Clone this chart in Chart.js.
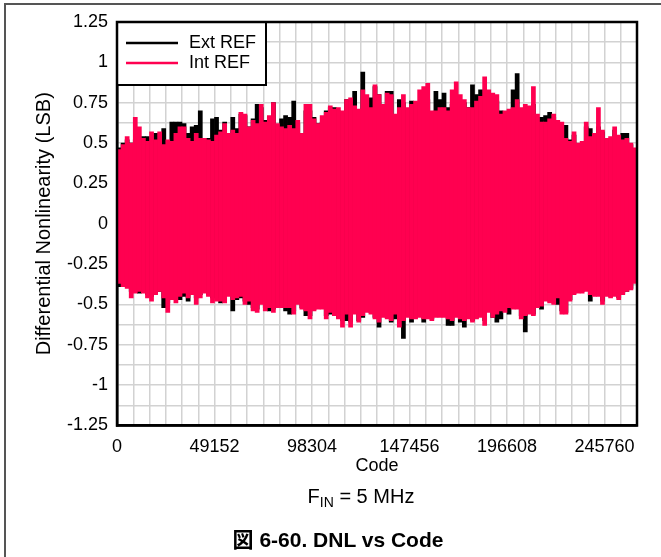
<!DOCTYPE html>
<html>
<head>
<meta charset="utf-8">
<script src="https://cdn.jsdelivr.net/npm/chart.js@4.4.1/dist/chart.umd.min.js"></script>
<style>
  html, body { margin: 0; padding: 0; background: #fff; }
  #wrap { position: relative; width: 661px; height: 557px; overflow: hidden; background: #fff; }
  #frame { position: absolute; left: 4px; top: 3px; width: 700px; height: 600px; border-top: 2px solid #555; border-left: 2px solid #555; }
  canvas { position: absolute; left: 0; top: 0; }
  .cap { position: absolute; white-space: nowrap; color: #000; font-family: "Liberation Sans", Arial, "Noto Sans CJK JP", sans-serif; }
  #fin { font-size: 20px; line-height: 20px; left: 361px; top: 486px; transform: translateX(-50%); }
  #fin sub { font-size: 14px; vertical-align: -4px; line-height: 0; }
  #fig { font-size: 21px; line-height: 21px; font-weight: bold; left: 338px; top: 529px; transform: translateX(-50%); }
</style>
</head>
<body>
<div id="wrap">
  <div id="frame"></div>
  <canvas id="c" width="661" height="557"></canvas>
  <div class="cap" id="fin">F<sub>IN</sub> = 5 MHz</div>
  <div class="cap" id="fig">図 6-60. DNL vs Code</div>
</div>
<script>
// ---- Data (DNL envelope per 2048-code bin) ----
const binWidth = 2048;
const seriesNames = ['Ext REF', 'Int REF'];
const xTickValues = [0, 49152, 98304, 147456, 196608, 245760];
const xTickLabels = ['0', '49152', '98304', '147456', '196608', '245760'];
const yTickValues = [1.25, 1, 0.75, 0.5, 0.25, 0, -0.25, -0.5, -0.75, -1, -1.25];
const yTickLabels = ['1.25', '1', '0.75', '0.5', '0.25', '0', '-0.25', '-0.5', '-0.75', '-1', '-1.25'];

// Ext REF (black) max / min DNL per bin
const extHi = [
  0.47,0.50,0.52,0.50,0.52,0.53,0.54,0.54,0.52,0.56,0.53,0.59,0.51,0.63,0.63,0.63,
  0.62,0.56,0.60,0.61,0.70,0.53,0.53,0.65,0.66,0.58,0.63,0.56,0.66,0.59,0.68,0.67,
  0.60,0.65,0.74,0.72,0.64,0.66,0.75,0.60,0.65,0.67,0.66,0.76,0.62,0.55,0.70,0.70,
  0.66,0.62,0.63,0.70,0.72,0.72,0.70,0.68,0.77,0.75,0.82,0.69,0.94,0.71,0.78,0.85,
  0.80,0.72,0.82,0.82,0.66,0.77,0.75,0.70,0.76,0.75,0.74,0.76,0.77,0.68,0.82,0.77,
  0.81,0.72,0.74,0.76,0.74,0.75,0.72,0.86,0.80,0.83,0.79,0.78,0.78,0.76,0.70,0.68,
  0.69,0.83,0.93,0.70,0.72,0.71,0.74,0.66,0.66,0.67,0.69,0.66,0.61,0.61,0.61,0.52,
  0.55,0.49,0.49,0.60,0.59,0.54,0.60,0.57,0.52,0.53,0.58,0.54,0.56,0.56,0.49,0.46
];
const extLo = [
  -0.39,-0.38,-0.39,-0.42,-0.42,-0.43,-0.41,-0.44,-0.45,-0.43,-0.42,-0.52,-0.49,-0.45,-0.47,-0.47,
  -0.45,-0.48,-0.43,-0.46,-0.44,-0.42,-0.44,-0.46,-0.46,-0.49,-0.47,-0.44,-0.54,-0.47,-0.46,-0.48,
  -0.50,-0.52,-0.53,-0.49,-0.52,-0.54,-0.53,-0.51,-0.51,-0.54,-0.56,-0.54,-0.49,-0.52,-0.57,-0.57,
  -0.53,-0.52,-0.52,-0.57,-0.56,-0.56,-0.58,-0.60,-0.60,-0.61,-0.55,-0.60,-0.58,-0.54,-0.55,-0.58,
  -0.64,-0.57,-0.58,-0.61,-0.59,-0.61,-0.71,-0.57,-0.61,-0.58,-0.57,-0.61,-0.58,-0.59,-0.57,-0.57,
  -0.57,-0.63,-0.63,-0.57,-0.61,-0.64,-0.58,-0.60,-0.58,-0.57,-0.60,-0.54,-0.58,-0.61,-0.59,-0.54,
  -0.56,-0.52,-0.52,-0.57,-0.67,-0.55,-0.56,-0.51,-0.53,-0.47,-0.48,-0.49,-0.50,-0.54,-0.55,-0.47,
  -0.43,-0.42,-0.42,-0.41,-0.48,-0.44,-0.44,-0.48,-0.44,-0.45,-0.44,-0.46,-0.43,-0.42,-0.40,-0.36
];
// Int REF (pink) max / min DNL per bin
const intHi = [
  0.46,0.49,0.54,0.50,0.66,0.60,0.53,0.51,0.57,0.52,0.57,0.49,0.52,0.51,0.56,0.60,
  0.60,0.53,0.51,0.56,0.53,0.53,0.52,0.51,0.55,0.57,0.62,0.56,0.58,0.56,0.69,0.68,
  0.60,0.64,0.62,0.74,0.63,0.67,0.75,0.62,0.60,0.59,0.61,0.59,0.64,0.56,0.74,0.74,
  0.65,0.62,0.67,0.69,0.73,0.71,0.72,0.70,0.77,0.78,0.73,0.71,0.83,0.80,0.72,0.86,
  0.80,0.74,0.81,0.80,0.68,0.72,0.80,0.72,0.74,0.76,0.83,0.85,0.87,0.70,0.70,0.72,
  0.72,0.70,0.83,0.88,0.80,0.77,0.72,0.72,0.76,0.79,0.91,0.83,0.81,0.80,0.68,0.70,
  0.71,0.72,0.77,0.72,0.74,0.73,0.85,0.68,0.63,0.63,0.65,0.68,0.64,0.63,0.53,0.51,
  0.57,0.50,0.51,0.63,0.54,0.56,0.72,0.58,0.53,0.54,0.60,0.55,0.52,0.53,0.50,0.47
];
const intLo = [
  -0.37,-0.39,-0.40,-0.46,-0.43,-0.42,-0.43,-0.46,-0.48,-0.44,-0.42,-0.46,-0.55,-0.47,-0.49,-0.45,
  -0.43,-0.46,-0.44,-0.50,-0.46,-0.43,-0.45,-0.49,-0.48,-0.48,-0.49,-0.45,-0.47,-0.46,-0.45,-0.50,
  -0.48,-0.54,-0.55,-0.50,-0.54,-0.52,-0.55,-0.52,-0.52,-0.52,-0.52,-0.56,-0.50,-0.53,-0.54,-0.59,
  -0.54,-0.53,-0.53,-0.59,-0.55,-0.57,-0.59,-0.64,-0.56,-0.64,-0.56,-0.61,-0.57,-0.55,-0.56,-0.59,
  -0.61,-0.58,-0.59,-0.60,-0.56,-0.64,-0.60,-0.58,-0.59,-0.59,-0.58,-0.59,-0.59,-0.60,-0.58,-0.58,
  -0.58,-0.59,-0.60,-0.58,-0.59,-0.60,-0.59,-0.61,-0.59,-0.58,-0.63,-0.55,-0.58,-0.56,-0.54,-0.55,
  -0.52,-0.53,-0.53,-0.59,-0.57,-0.56,-0.57,-0.52,-0.51,-0.48,-0.49,-0.50,-0.46,-0.56,-0.56,-0.48,
  -0.44,-0.43,-0.43,-0.42,-0.44,-0.45,-0.45,-0.50,-0.45,-0.46,-0.45,-0.47,-0.44,-0.42,-0.41,-0.37
];

const extColor = '#000000';
const intColor = '#ff0050';
const FONT = '"Liberation Sans", Arial, sans-serif';

function toBars(hi, lo) {
  return hi.map((h, i) => ({ x: i * binWidth + binWidth / 2, y: [lo[i], h] }));
}

const framePlugin = {
  id: 'frameLegend',
  afterDraw(chart) {
    const { ctx, chartArea: a } = chart;
    ctx.save();
    // legend box
    const lx = a.left, ly = a.top, lw = 149, lh = 63;
    ctx.fillStyle = '#fff';
    ctx.fillRect(lx, ly, lw, lh);
    ctx.strokeStyle = '#000';
    ctx.lineWidth = 2;
    ctx.strokeRect(lx, ly, lw, lh);
    const items = [[seriesNames[0], extColor, 21], [seriesNames[1], intColor, 41]];
    ctx.font = '18px ' + FONT;
    ctx.textBaseline = 'alphabetic';
    ctx.textAlign = 'left';
    items.forEach(([label, col, dy]) => {
      ctx.strokeStyle = col;
      ctx.lineWidth = 2.5;
      ctx.beginPath();
      ctx.moveTo(lx + 9, ly + dy);
      ctx.lineTo(lx + 61, ly + dy);
      ctx.stroke();
      ctx.fillStyle = '#000';
      ctx.fillText(label, lx + 72, ly + dy + 5);
    });
    // plot frame
    ctx.strokeStyle = '#000';
    ctx.lineWidth = 2.5;
    ctx.strokeRect(a.left, a.top, a.right - a.left, a.bottom - a.top);
    ctx.restore();
  }
};

new Chart(document.getElementById('c'), {
  type: 'bar',
  data: {
    datasets: [
      { label: seriesNames[0], data: toBars(extHi, extLo), backgroundColor: extColor, borderWidth: 0,
        grouped: false, barPercentage: 1, categoryPercentage: 1, order: 1 },
      { label: seriesNames[1], data: toBars(intHi, intLo), backgroundColor: intColor, borderWidth: 0,
        grouped: false, barPercentage: 1, categoryPercentage: 1, order: 0 }
    ]
  },
  options: {
    responsive: false,
    animation: false,
    devicePixelRatio: 1,
    layout: { padding: { left: 0, top: 22, right: 24, bottom: 80.5 } },
    plugins: { legend: { display: false }, tooltip: { enabled: false } },
    scales: {
      x: {
        type: 'linear', min: 0, max: 262144, offset: false,
        afterFit(s) { s.height = 51; },
        grid: { color: '#d2d2d2', lineWidth: 1.5, drawTicks: false, offset: false },
        border: { display: true, color: '#000', width: 2.5 },
        ticks: {
          stepSize: 8192, autoSkip: false, maxRotation: 0, padding: 11, color: '#000',
          font: { family: FONT, size: 18 },
          callback(v) { const i = xTickValues.indexOf(v); return i >= 0 ? xTickLabels[i] : ''; }
        },
        title: { display: true, text: 'Code', color: '#000', font: { family: FONT, size: 18 }, padding: { top: 0, bottom: 0 } }
      },
      y: {
        type: 'linear', min: -1.25, max: 1.25,
        afterFit(s) { s.width = 117; },
        grid: { color: '#d2d2d2', lineWidth: 1.5, drawTicks: false },
        border: { display: true, color: '#000', width: 2.5 },
        ticks: {
          stepSize: 0.125, autoSkip: false, padding: 9, color: '#000',
          font: { family: FONT, size: 18 },
          callback(v) {
            const i = yTickValues.findIndex(t => Math.abs(t - v) < 1e-9);
            return i >= 0 ? yTickLabels[i] : '';
          }
        },
        title: { display: true, text: 'Differential Nonlinearity (LSB)', color: '#000',
          font: { family: FONT, size: 20 }, padding: { top: 32, bottom: 0 } }
      }
    }
  },
  plugins: [framePlugin]
});
</script>
</body>
</html>
